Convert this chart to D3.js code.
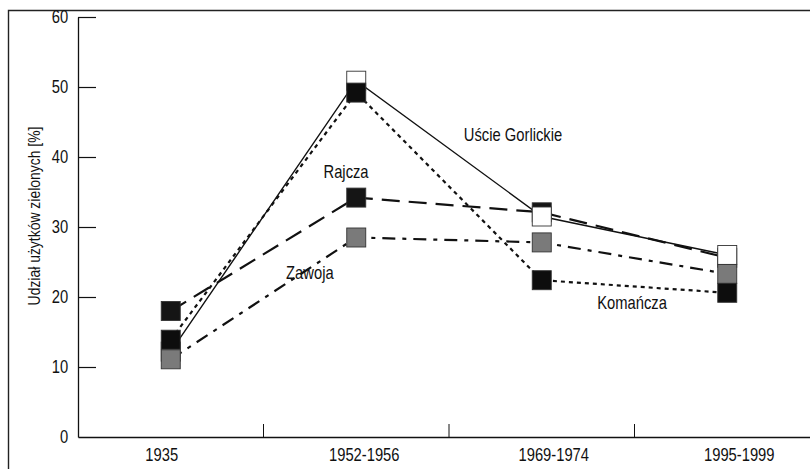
<!DOCTYPE html>
<html>
<head>
<meta charset="utf-8">
<script src="https://cdn.jsdelivr.net/npm/d3@7"></script>
<style>
    body { margin: 0; background: #fff; }
    text { font-family: "Liberation Sans", Arial, sans-serif; fill: #111; }
    .tick text { font-size: 18px; }
    .seriesLabel { font-size: 18px; }
    .yTitle { font-size: 17px; }
</style>
</head>
<body>
<div id="chart"></div>
<script>
// Periods on the x axis
const periods = ["1935", "1952-1956", "1969-1974", "1995-1999"];
const yTicks = [0, 10, 20, 30, 40, 50, 60];

// Share of grassland [%] per village
const rajcza = [18.0, 34.2, 32.1, 25.6];
const uscie = [12.2, 50.9, 31.5, 26.0];
const zawoja = [11.1, 28.5, 27.8, 23.3];
const komancza = [13.9, 49.2, 22.4, 20.6];

const seriesNames = ["Rajcza", "Uście Gorlickie", "Zawoja", "Komańcza"];

// label anchors: [category position, value]
const labelAnchors = [[0.945, 37.0], [1.845, 42.3], [0.75, 22.6], [2.487, 18.3]];

function init() {
    const w = 810;
    const h = 469;
    const left = 78;
    const bottom = 437;
    const bandW = 185.5;
    const squeeze = 0.82; // the figure's font is a condensed one

    var svg = d3.select("#chart").append("svg").attr("width", w).attr("height", h);

    // frame
    svg.append("path")
        .attr("d", "M8.5," + h + "V10.5H" + w)
        .attr("fill", "none")
        .attr("stroke", "#222")
        .attr("stroke-width", 1.4);

    // Scales
    var xScale = d3.scaleBand()
        .domain(periods)
        .range([left, left + bandW * periods.length]);

    var xPos = d3.scaleLinear()
        .domain([0, 1])
        .range([left + bandW / 2, left + bandW * 1.5]);

    var yScale = d3.scaleLinear()
        .domain([0, 60])
        .range([bottom, 17]);

    // x axis
    var labelShift = [-9, 8, 12, 12];
    var xAxis = d3.axisBottom(xScale).tickSize(0).tickPadding(11);
    var gx = svg.append("g")
        .attr("transform", "translate(0," + bottom + ")")
        .call(xAxis);
    gx.select(".domain").attr("stroke", "#111").attr("stroke-width", 1.3);
    gx.selectAll(".tick text")
        .attr("transform", (d, i) => "translate(" + labelShift[i] + ",0) scale(" + squeeze + ",1)");

    // category separators (upward ticks)
    svg.selectAll(".sep")
        .data(periods.slice(1))
        .enter().append("line")
        .attr("x1", (d) => xScale(d))
        .attr("x2", (d) => xScale(d))
        .attr("y1", bottom)
        .attr("y2", bottom - 13)
        .attr("stroke", "#111");

    // y axis
    var yAxis = d3.axisLeft(yScale).tickValues(yTicks).tickSize(0).tickPadding(12);
    var gy = svg.append("g")
        .attr("transform", "translate(" + left + ",0)")
        .call(yAxis);
    gy.select(".domain").attr("stroke", "#111").attr("stroke-width", 1.3);
    gy.selectAll(".tick text")
        .attr("transform", "scale(" + squeeze + ",1)");
    gy.selectAll(".tick")
        .filter((d) => d > 0)
        .append("line")
        .attr("x1", 0)
        .attr("x2", 18)
        .attr("stroke", "#111")
        .attr("stroke-width", 1.2);

    svg.append("text")
        .attr("class", "yTitle")
        .attr("transform", "translate(40,216) rotate(-90) scale(" + squeeze + ",1)")
        .attr("text-anchor", "middle")
        .text("Udział użytków zielonych [%]");

    // Series: drawn in this order so markers overlap as in the figure
    var series = [
        { values: rajcza, dash: "18,9", width: 2.2, fill: "#151515" },
        { values: uscie, dash: null, width: 1.4, fill: "#ffffff" },
        { values: zawoja, dash: "13,7,4,7", width: 2.2, fill: "#7a7a7a" },
        { values: komancza, dash: "4,4", width: 2.2, fill: "#0d0d0d" }
    ];

    var line = d3.line()
        .x((d, i) => xPos(i))
        .y((d) => yScale(d));

    series.forEach((s) => {
        svg.append("path")
            .datum(s.values)
            .attr("fill", "none")
            .attr("stroke", "#111")
            .attr("stroke-width", s.width)
            .attr("stroke-dasharray", s.dash)
            .attr("d", line);
    });

    var m = 19;
    series.forEach((s) => {
        svg.selectAll(null)
            .data(s.values)
            .enter().append("rect")
            .attr("x", (d, i) => xPos(i) - m / 2)
            .attr("y", (d) => yScale(d) - m / 2)
            .attr("width", m)
            .attr("height", m)
            .attr("fill", s.fill)
            .attr("stroke", "#333")
            .attr("stroke-width", 0.9);
    });

    // series labels
    svg.selectAll(".seriesLabel")
        .data(seriesNames)
        .enter().append("text")
        .attr("class", "seriesLabel")
        .attr("text-anchor", "middle")
        .attr("transform", (d, i) => "translate(" + xPos(labelAnchors[i][0]) + "," +
            yScale(labelAnchors[i][1]) + ") scale(" + squeeze + ",1)")
        .text((d) => d);
}

window.onload = init();
</script>
</body>
</html>
